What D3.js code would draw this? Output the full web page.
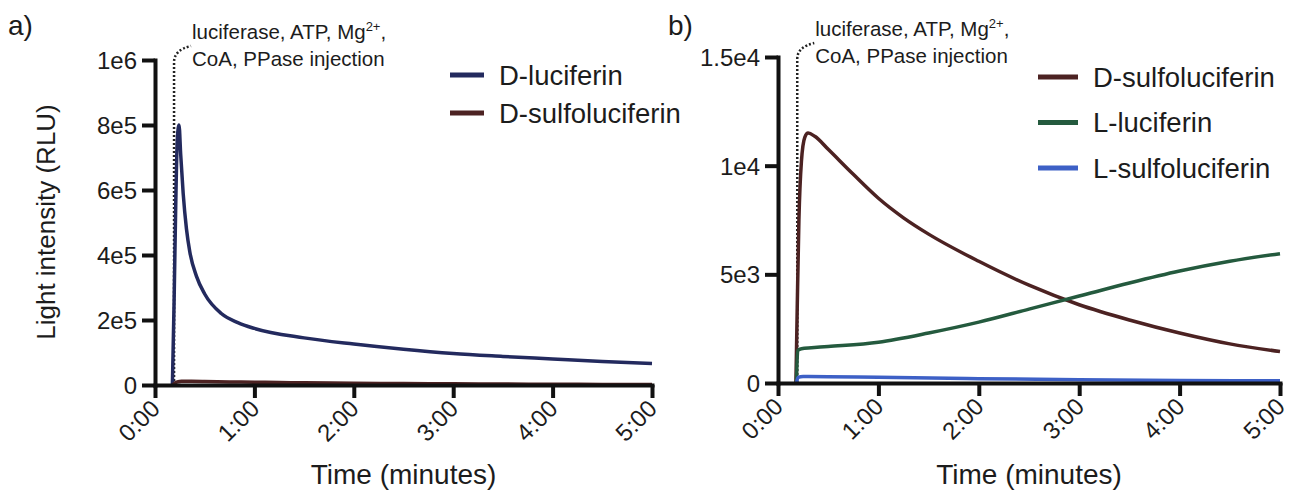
<html>
<head>
  <meta charset="UTF-8">
  <title>Luciferin light emission</title>
  <script src="https://cdn.jsdelivr.net/npm/d3@7"></script>
  <style>
    body { margin: 0; background: #fff; }
    text { font-family: "Liberation Sans", Arial, sans-serif; fill: #1c1c1c; }
  </style>
</head>
<body>
  <svg id="chart" width="1291" height="493"></svg>
  <script>
  // ---------------------------------------------------
  // Data (time in seconds, intensity in RLU)
  // ---------------------------------------------------
  var timeTicks = [0, 60, 120, 180, 240, 300];
  var timeTickLabels = ["0:00", "1:00", "2:00", "3:00", "4:00", "5:00"];

  var yTicksA = [0, 2e5, 4e5, 6e5, 8e5, 1e6];
  var yTickLabelsA = ["0", "2e5", "4e5", "6e5", "8e5", "1e6"];
  var yTicksB = [0, 5e3, 1e4, 1.5e4];
  var yTickLabelsB = ["0", "5e3", "1e4", "1.5e4"];

  var injectionTime = 11.5;

  var dLucTime   = [10.5, 11.5, 12.5, 13.5, 14.5, 15.5, 17, 19, 21, 25, 30, 40, 50, 60, 90, 120, 150, 180, 210, 240, 270, 300];
  var dLucValues = [0, 2.5e5, 5.5e5, 7.6e5, 8e5, 7.1e5, 5.9e5, 4.8e5, 4.1e5, 3.35e5, 2.8e5, 2.2e5, 1.92e5, 1.74e5, 1.45e5, 1.26e5, 1.1e5, 9.7e4, 8.8e4, 8.0e4, 7.2e4, 6.6e4];

  var dSulfoTime   = [10.7, 11.5, 12.5, 14, 16, 18, 22, 30, 45, 60, 75, 90, 120, 150, 180, 210, 240, 270, 300];
  var dSulfoValues = [0, 3500, 7500, 10200, 11300, 11500, 11350, 10750, 9600, 8500, 7600, 6850, 5600, 4500, 3600, 2900, 2300, 1800, 1450];

  var lLucTime   = [11, 11.8, 14, 20, 30, 60, 90, 120, 150, 180, 210, 240, 270, 300];
  var lLucValues = [0, 1500, 1580, 1620, 1680, 1880, 2300, 2800, 3400, 4000, 4600, 5150, 5600, 5950];

  var lSulfoTime   = [11, 12, 15, 30, 60, 120, 180, 240, 300];
  var lSulfoValues = [0, 260, 300, 290, 260, 200, 150, 120, 100];

  var colors = {
    dLuc: "#232a5e",
    dSulfo: "#4c2222",
    lLuc: "#245a3e",
    lSulfo: "#3d60c6"
  };

  // ---------------------------------------------------
  // Fonctions
  // ---------------------------------------------------
  var svg = d3.select("#chart");

  function drawPanel(p) {
    var x = d3.scaleLinear().domain([0, 300]).range([p.left, p.right]);
    var y = d3.scaleLinear().domain(p.yDomain).range([p.bottom, p.top]);
    var g = svg.append("g");

    // injection marker (dotted)
    var xi = x(injectionTime);
    g.append("path")
      .attr("d", "M" + xi + "," + y(0) + "V" + (p.top + 2) + "Q" + xi + "," + (p.top - 10) + " " + (xi + 17) + "," + (p.top - 14))
      .attr("fill", "none")
      .attr("stroke", "#222")
      .attr("stroke-width", 2.5)
      .attr("stroke-dasharray", "2,2");

    var note = g.append("text")
      .attr("x", xi + 18)
      .attr("y", p.top - 21)
      .style("font-size", "20.5px");
    note.append("tspan").text("luciferase, ATP, Mg");
    note.append("tspan").attr("dy", -8).style("font-size", "13px").text("2+");
    note.append("tspan").attr("dy", 8).text(",");
    g.append("text")
      .attr("x", xi + 18)
      .attr("y", p.top + 6)
      .style("font-size", "20.5px")
      .text("CoA, PPase injection");

    // series
    var line = d3.line()
      .x(function (d) { return x(d[0]); })
      .y(function (d) { return y(d[1]); })
      .curve(d3.curveMonotoneX);

    p.series.forEach(function (s) {
      g.append("path")
        .datum(d3.zip(s.time, s.values))
        .attr("d", line)
        .attr("fill", "none")
        .attr("stroke", s.color)
        .attr("stroke-width", 3.5)
        .attr("stroke-linejoin", "round");
    });

    // axes
    var yAxis = g.append("g")
      .attr("transform", "translate(" + p.left + ",0)")
      .call(d3.axisLeft(y).tickValues(p.yTicks).tickSize(13).tickSizeOuter(0).tickPadding(5)
        .tickFormat(function (d, i) { return p.yLabels[i]; }));
    var xAxis = g.append("g")
      .attr("transform", "translate(0," + y(0) + ")")
      .call(d3.axisBottom(x).tickValues(timeTicks).tickSize(13).tickSizeOuter(0)
        .tickFormat(function (d, i) { return timeTickLabels[i]; }));

    [yAxis, xAxis].forEach(function (a) {
      a.select(".domain").attr("stroke", "#111").attr("stroke-width", 4).attr("stroke-linecap", "square");
      a.selectAll(".tick line").attr("stroke", "#111").attr("stroke-width", 4);
      a.selectAll(".tick text").attr("fill", "#1c1c1c").style("font-size", "24px")
        .style("font-family", "Liberation Sans, Arial, sans-serif");
    });
    yAxis.selectAll(".tick text").attr("dy", "0.36em");
    xAxis.selectAll(".tick text")
      .attr("x", 0).attr("y", 0).attr("dy", null)
      .attr("text-anchor", "end")
      .attr("transform", "translate(6,25) rotate(-45)");

    g.append("text")
      .attr("x", (p.left + p.right) / 2)
      .attr("y", 484)
      .attr("text-anchor", "middle")
      .style("font-size", "28px")
      .text("Time (minutes)");

    g.append("text")
      .attr("x", p.panelX)
      .attr("y", 35)
      .style("font-size", "28px")
      .text(p.panelLabel);

    // legend
    p.series.forEach(function (s, i) {
      var ly = p.legendY + i * p.legendStep;
      g.append("line")
        .attr("x1", p.legendX).attr("x2", p.legendX + p.legendLen)
        .attr("y1", ly).attr("y2", ly)
        .attr("stroke", s.color)
        .attr("stroke-width", 5);
      g.append("text")
        .attr("x", p.legendX + p.legendLen + 15)
        .attr("y", ly)
        .attr("dy", "0.35em")
        .style("font-size", "27.5px")
        .text(s.name);
    });
  }

  drawPanel({
    left: 155, right: 652, top: 60, bottom: 385,
    yDomain: [0, 1e6], yTicks: yTicksA, yLabels: yTickLabelsA,
    panelLabel: "a)", panelX: 8,
    legendX: 450, legendLen: 34, legendY: 75, legendStep: 38,
    series: [
      { name: "D-luciferin", time: dLucTime, values: dLucValues, color: colors.dLuc },
      { name: "D-sulfoluciferin", time: dSulfoTime, values: dSulfoValues, color: colors.dSulfo }
    ]
  });

  drawPanel({
    left: 778, right: 1280, top: 57, bottom: 383,
    yDomain: [0, 1.5e4], yTicks: yTicksB, yLabels: yTickLabelsB,
    panelLabel: "b)", panelX: 668,
    legendX: 1038, legendLen: 40, legendY: 77, legendStep: 45.5,
    series: [
      { name: "D-sulfoluciferin", time: dSulfoTime, values: dSulfoValues, color: colors.dSulfo },
      { name: "L-luciferin", time: lLucTime, values: lLucValues, color: colors.lLuc },
      { name: "L-sulfoluciferin", time: lSulfoTime, values: lSulfoValues, color: colors.lSulfo }
    ]
  });

  svg.append("text")
    .attr("transform", "translate(55,222) rotate(-90)")
    .attr("text-anchor", "middle")
    .style("font-size", "26px")
    .text("Light intensity (RLU)");
  </script>
</body>
</html>
